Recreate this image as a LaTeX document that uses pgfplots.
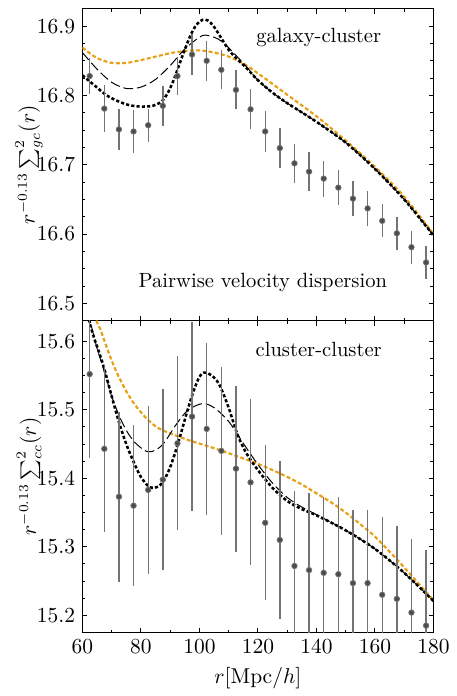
\documentclass[border=0pt]{standalone}
\usepackage{pgfplots}
\pgfplotsset{compat=1.18}
\definecolor{myorange}{RGB}{232,160,20}
\pgfplotsset{
 panel/.style={
  scale only axis, width=179pt, height=159pt,
  xmin=60, xmax=180,
  xtick={60,80,...,180}, minor x tick num=1, minor y tick num=3,
  tick align=inside,
  major tick length=2.5pt, minor tick length=1.5pt,
  axis line style={line width=0.6pt},
  every tick/.style={black, line width=0.45pt},
  yticklabel style={/pgf/number format/fixed, /pgf/number format/precision=1, /pgf/number format/fixed zerofill},
  ylabel style={at={(axis description cs:-0.152,0.5)}, anchor=center},
 },
 dat/.style={only marks, mark=*, mark size=1.4pt, mark options={fill=black!70, draw=black!55},
   error bars/.cd, y dir=both, y explicit, error mark=none,
   error bar style={color=black!55, line width=0.7pt}},
 orng/.style={myorange, line width=1.1pt, dash pattern=on 2pt off 1.2pt, smooth},
 ldash/.style={black, line width=0.5pt, dash pattern=on 5pt off 2pt, smooth},
 dotd/.style={black, line width=1.3pt, dash pattern=on 1.6pt off 1.1pt, smooth},
}
\begin{document}
\fontsize{10.5pt}{12.6pt}\selectfont
\begin{tikzpicture}[font=\fontsize{10.5pt}{12.6pt}\selectfont]
\begin{axis}[panel, name=top, ymin=16.475, ymax=16.925,
  ytick={16.5,16.6,16.7,16.8,16.9}, xticklabels={},
  ylabel={$r^{-0.13}\sum^2_{gc}(r)$}]
\addplot[orng] coordinates {(60,16.869)(65,16.854)(70,16.847)(75,16.847)(80,16.851)(85,16.856)(90,16.861)(95,16.864)(100,16.865)(105,16.862)(110,16.856)(115,16.846)(120,16.832)(130,16.801)(140,16.770)(150,16.735)(160,16.697)(170,16.654)(180,16.600)};
\addplot[ldash] coordinates {(60,16.862)(65,16.838)(70,16.819)(75,16.810)(80,16.812)(85,16.823)(90,16.843)(95,16.867)(100,16.884)(102,16.887)(105,16.884)(108,16.877)(112,16.860)(116,16.842)(120,16.822)(125,16.804)(130,16.789)(140,16.762)(150,16.732)(160,16.694)(170,16.650)(180,16.598)};
\addplot[dotd] coordinates {(60,16.829)(64,16.815)(68,16.801)(72,16.792)(76,16.786)(80,16.784)(84,16.785)(87,16.791)(89,16.802)(91,16.820)(93,16.843)(95,16.866)(97,16.887)(99,16.902)(101,16.909)(103,16.908)(105,16.899)(107,16.886)(110,16.866)(113,16.852)(116,16.840)(120,16.822)(125,16.804)(130,16.789)(140,16.762)(150,16.732)(160,16.694)(170,16.650)(180,16.598)};
\addplot[dat] table[x=x, y=y, y error=e] {
x y e
62.5 16.828 0.026
67.5 16.781 0.034
72.5 16.751 0.030
77.5 16.748 0.031
82.5 16.757 0.024
87.5 16.785 0.029
92.5 16.828 0.028
97.5 16.859 0.029
102.5 16.850 0.029
107.5 16.837 0.028
112.5 16.808 0.028
117.5 16.780 0.029
122.5 16.748 0.029
127.5 16.724 0.029
132.5 16.702 0.028
137.5 16.690 0.028
142.5 16.680 0.026
147.5 16.667 0.025
152.5 16.651 0.025
157.5 16.637 0.025
162.5 16.619 0.024
167.5 16.601 0.024
172.5 16.581 0.024
177.5 16.559 0.024
};
\node at (axis cs:140.8,16.884) {galaxy-cluster};
\node at (axis cs:121.7,16.530) {Pairwise velocity dispersion};
\end{axis}
\begin{axis}[panel, name=bot, at={(top.south west)}, anchor=north west,
  ymin=15.175, ymax=15.63,
  ytick={15.2,15.3,15.4,15.5,15.6},
  xlabel={$r[\mathrm{Mpc}/h]$},
  ylabel={$r^{-0.13}\sum^2_{cc}(r)$}]
\addplot[orng] coordinates {(60,15.71)(62.5,15.67)(65,15.628)(66,15.619)(68,15.595)(70,15.572)(72,15.552)(75,15.527)(78,15.507)(82,15.487)(86,15.473)(91,15.464)(96,15.456)(102,15.448)(107,15.441)(113,15.432)(120,15.421)(125,15.412)(130,15.402)(135,15.391)(140,15.378)(145,15.365)(150,15.350)(155,15.333)(160,15.315)(165,15.293)(170,15.270)(175,15.246)(180,15.222)};
\addplot[ldash] coordinates {(61,15.66)(62.5,15.632)(65,15.590)(67.5,15.556)(70,15.520)(72.5,15.492)(75,15.470)(78,15.452)(82,15.439)(85,15.441)(88,15.452)(92,15.478)(96,15.499)(101,15.509)(105,15.503)(110,15.483)(115,15.451)(120,15.420)(125,15.393)(130,15.372)(135,15.358)(140,15.347)(150,15.324)(160,15.297)(170,15.262)(180,15.221)};
\addplot[dotd] coordinates {(60.5,15.67)(62,15.635)(64,15.605)(67,15.567)(70,15.520)(72.5,15.482)(75,15.450)(77.5,15.424)(80,15.402)(83,15.387)(86,15.388)(88,15.398)(90,15.416)(92,15.441)(94,15.470)(96,15.500)(98,15.527)(100,15.548)(101.5,15.554)(103,15.553)(105,15.547)(107,15.535)(110,15.503)(113,15.464)(116,15.437)(120,15.412)(125,15.386)(130,15.367)(135,15.355)(140,15.346)(150,15.324)(160,15.297)(170,15.262)(180,15.221)};
\addplot[dat] table[x=x, y=y, y error=e] {
x y e
62.5 15.552 0.122
67.5 15.443 0.122
72.5 15.373 0.124
77.5 15.360 0.117
82.5 15.383 0.123
87.5 15.398 0.132
92.5 15.451 0.127
97.5 15.490 0.138
102.5 15.472 0.125
107.5 15.440 0.123
112.5 15.414 0.121
117.5 15.394 0.121
122.5 15.335 0.113
127.5 15.310 0.115
132.5 15.272 0.110
137.5 15.266 0.113
142.5 15.262 0.111
147.5 15.260 0.113
152.5 15.247 0.107
157.5 15.247 0.107
162.5 15.230 0.113
167.5 15.224 0.107
172.5 15.204 0.107
177.5 15.185 0.111
};
\node at (axis cs:140.8,15.588) {cluster-cluster};
\end{axis}
\path ([xshift=-42pt,yshift=4.5pt]top.north west) rectangle ([xshift=8pt,yshift=-26pt]bot.south east);
\end{tikzpicture}
\end{document}
